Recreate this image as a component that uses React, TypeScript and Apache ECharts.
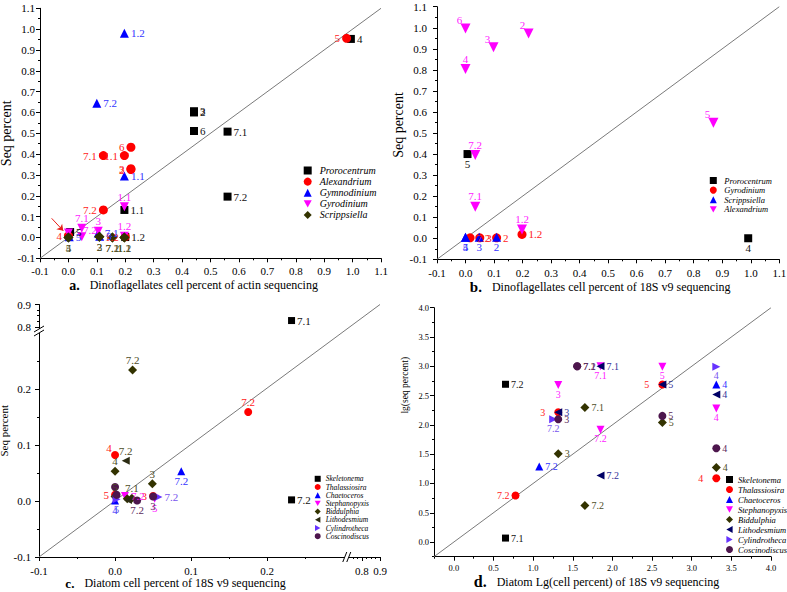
import React, { useEffect, useRef } from 'react';
import * as echarts from 'echarts';

const FONT = 'Liberation Serif';

// ---------- tick labels ----------
const dinoTicks = [-0.1, 0.0, 0.1, 0.2, 0.3, 0.4, 0.5, 0.6, 0.7, 0.8, 0.9, 1.0, 1.1];
const cTicks = [-0.1, 0.0, 0.1, 0.2, 0.8, 0.9];
const dTicks = [0.0, 0.5, 1.0, 1.5, 2.0, 2.5, 3.0, 3.5, 4.0];

// ---------- panel a : actin sequencing ----------
const aPrX = [0.994, 0.442, 0.442, 0.442, 0.56, 0.56, 0.197, 0.006, 0.2];
const aPrY = [0.953, 0.606, 0.6, 0.511, 0.508, 0.196, 0.132, 0.026, 0.002];
const aPrL = ['4', '3', '2', '6', '7.1', '7.2', '1.1', '5', '1.2'];
const aAlX = [0.979, 0.22, 0.123, 0.197, 0.22, 0.22, 0.123, 0.0, 0.2];
const aAlY = [0.956, 0.433, 0.393, 0.393, 0.33, 0.326, 0.132, 0.008, 0.004];
const aAlL = ['5', '6', '7.1', '1.1', '3', '2', '7.2', '4', '1.2'];
const aGmX = [0.197, 0.1, 0.197, 0.105, 0.11, 0.003];
const aGmY = [0.98, 0.644, 0.295, 0.022, 0.006, 0.004];
const aGmL = ['1.2', '7.2', '1.1', '7.1', '3', '5'];
const aGyX = [0.197, 0.047, 0.047, 0.197, 0.105, 0.0];
const aGyY = [0.148, 0.044, 0.004, 0.006, 0.03, 0.022];
const aGyL = ['1.1', '7.1', '7.2', '1.2', '3', ''];
const aScX = [0.0, 0.0, 0.109, 0.109, 0.155, 0.155, 0.197, 0.197];
const aScY = [0.0, 0.0, 0.004, 0.004, 0.0, 0.0, 0.0, 0.0];
const aScL = ['4', '5', '2', '3', '7.1', '7.2', '1.1', '1.2'];
const aArrow = [[-0.059, 0.092], [-0.018, 0.032]];

// ---------- panel b : 18S v9 (dinoflagellates) ----------
const bPrX = [0.007, 0.991];
const bPrY = [0.4, 0.0];
const bPrL = ['5', '4'];
const bGyX = [0.198, 0.016, 0.05, 0.109];
const bGyY = [0.018, 0.002, 0.002, 0.002];
const bGyL = ['1.2', '7.2', '3', '2'];
const bScX = [0.0, 0.0, 0.048, 0.109];
const bScY = [0.005, 0.005, 0.005, 0.005];
const bScL = ['4', '5', '3', '2'];
const bAlX = [0.0, 0.221, 0.098, 0.0, 0.869, 0.034, 0.034, 0.198];
const bAlY = [0.997, 0.973, 0.907, 0.804, 0.549, 0.395, 0.15, 0.042];
const bAlL = ['6', '2', '3', '4', '5', '7.2', '7.1', '1.2'];

// ---------- panel c : diatoms, 18S v9 ----------
const cSkX = [0.232, 0.232];
const cSkY = [0.828, 0.002];
const cSkL = ['7.1', '7.2'];
const cThX = [0.175, 0.0, 0.0, 0.05];
const cThY = [0.159, 0.082, 0.011, 0.009];
const cThL = ['7.2', '4', '5', '3'];
const cChX = [0.087, 0.0];
const cChY = [0.053, 0.001];
const cChL = ['7.2', '4'];
const cStX = [0.013, 0.052];
const cStY = [0.009, 0.004];
const cStL = ['7.2', '5'];
const cBiX = [0.023, 0.0, 0.049, 0.016, 0.022, 0.0];
const cBiY = [0.234, 0.053, 0.031, 0.004, 0.005, 0.008];
const cBiL = ['7.2', '4', '3', '', '7.1', '5'];
const cLiX = [0.014, 0.017];
const cLiY = [0.072, 0.002];
const cLiL = ['7.2', ''];
const cCyX = [0.057, 0.002];
const cCyY = [0.007, 0.003];
const cCyL = ['7.2', '5'];
const cCoX = [0.0, 0.002, 0.029, 0.05];
const cCoY = [0.025, 0.011, 0.001, 0.008];
const cCoL = ['', '', '7.2', '3'];

// ---------- panel d : diatoms, lg scale ----------
const dSkX = [0.652, 0.652];
const dSkY = [2.693, 0.068];
const dSkL = ['7.2', '7.1'];
const dThX = [0.778, 1.317, 2.63, 3.31];
const dThY = [0.795, 2.216, 2.69, 1.09];
const dThL = ['7.2', '3', '5', '4'];
const dChX = [1.077, 3.31];
const dChY = [1.29, 2.69];
const dChL = ['7.2', '4'];
const dStX = [1.317, 1.85, 1.85, 2.63, 3.31];
const dStY = [2.68, 1.915, 3.0, 2.99, 2.28];
const dStL = ['3', '7.2', '7.1', '5', '4'];
const dBiX = [1.653, 1.317, 1.653, 2.63, 3.31];
const dBiY = [2.295, 1.506, 0.625, 2.04, 1.273];
const dBiL = ['7.1', '3', '7.2', '5', '4'];
const dLiX = [1.85, 1.317, 1.85, 2.63, 3.31];
const dLiY = [3.0, 2.216, 1.136, 2.69, 2.52];
const dLiL = ['7.1', '3', '7.2', '5', '4'];
const dCyX = [1.253, 3.31];
const dCyY = [2.097, 2.994];
const dCyL = ['7.2', '4'];
const dCoX = [1.556, 1.317, 2.63, 3.31, 1.556];
const dCoY = [3.0, 2.097, 2.153, 1.6, 3.0];
const dCoL = ['7.2', '3', '5', '4', '7.1'];

// ---------- label placements (style only) ----------
const aPrP = ['r', 'r', 'r', 'r', 'r', 'r', 'r', 'r', 'r'];
const aAlP = ['l', 'l', 'l', 'l', 'l', 'l', 'l', 'l', 'l'];
const aGmP = ['r', 'r', 'r', 'r', 'r', 'r'];
const aGyP = ['t', 't', 'tr', 't', 't', 't'];
const aScP = ['b', 'b', 'b', 'b', 'b', 'b', 'b', 'b'];
const bPrP = ['b', 'b'];
const bGyP = ['r', 'r', 'r', 'r'];
const bScP = ['b', 'b', 'b', 'b'];
const bAlP = ['tl', 'tl', 'tl', 't', 'tl', 't', 't', 't'];
const cSkP = ['r', 'r'];
const cThP = ['t', 'tl', 'l', 'l'];
const cChP = ['b', 'b'];
const cStP = ['r', 'b'];
const cBiP = ['t', 't', 't', 't', 't', 't'];
const cLiP = ['t', 't'];
const cCyP = ['r', 'b'];
const cCoP = ['t', 't', 'b', 'b'];
const dSkP = ['r', 'r'];
const dThP = ['l', 'L', 'L', 'L'];
const dChP = ['r', 'r'];
const dStP = ['b', 'b', 'b', 'b', 'b'];
const dBiP = ['r', 'r', 'r', 'r', 'r'];
const dLiP = ['r', 'r', 'r', 'r', 'r'];
const dCyP = ['b', 'b'];
const dCoP = ['r', 'r', 'r', 'r', 'r'];

const LP: Record<string, any> = {
  r: { position: 'right', distance: 2 },
  l: { position: 'left', distance: 2 },
  L: { position: 'left', distance: 9 },
  t: { position: 'top', distance: 0 },
  b: { position: 'bottom', distance: 0 },
  tl: { position: 'top', distance: 0, offset: [-6, 2] },
  tr: { position: 'top', distance: 0, offset: [8, 3] },
};

const SYM = {
  square: 'rect',
  circle: 'circle',
  up: 'triangle',
  down: 'path://M0,0L10,0L5,9Z',
  left: 'path://M9,0L9,10L0,5Z',
  right: 'path://M0,0L0,10L9,5Z',
  diamond: 'diamond',
};

// ---------- broken-axis mapping for panel c ----------
const CX_LO = 0.3, CX_HS = 0.735, CX_T0 = 0.3092, CX_K = 0.2368;
const CY_LO = 0.3, CY_HS = 0.79, CY_T0 = 0.3071, CY_K = 0.398;
const cx = (v: number) => (v <= CX_LO ? v : CX_T0 + (v - CX_HS) * CX_K);
const cy = (v: number) => (v <= CY_LO ? v : CY_T0 + (v - CY_HS) * CY_K);
const cxInv = (t: number) => (t <= CX_LO + 1e-9 ? t : CX_HS + (t - CX_T0) / CX_K);
const cyInv = (t: number) => (t <= CY_LO + 1e-9 ? t : CY_HS + (t - CY_T0) / CY_K);
const id = (v: number) => v;

function minorOf(ticks: number[], n: number, maxGap: number) {
  const out: number[] = [];
  for (let i = 0; i < ticks.length - 1; i++) {
    const a = ticks[i], b = ticks[i + 1];
    if (b - a > maxGap) continue;
    for (let k = 1; k < n; k++) out.push(a + ((b - a) * k) / n);
  }
  return out;
}

function pts(prefix: string, gi: number, name: string, symbol: string, size: number, color: string,
  labColor: string, xs: number[], ys: number[], labs: string[], pos: string[], fs: number,
  fx = id, fy = id) {
  return {
    type: 'scatter', name: prefix + '|' + name, xAxisIndex: gi * 2, yAxisIndex: gi * 2,
    symbol, symbolSize: size, itemStyle: { color, opacity: 1 }, emphasis: { disabled: true },
    data: xs.map((x, i) => ({
      value: [fx(x), fy(ys[i])],
      label: {
        show: !!labs[i], formatter: labs[i] || '', color: labColor, fontSize: fs,
        fontFamily: FONT, ...LP[pos[i]],
      },
    })),
  };
}

function diag(gi: number, lo: number[], hi: number[]) {
  return {
    type: 'line', xAxisIndex: gi * 2, yAxisIndex: gi * 2, data: [lo, hi], symbol: 'none',
    lineStyle: { color: '#7a7a7a', width: 1 }, silent: true, z: 1,
  };
}

function axes(dim: 'x' | 'y', gi: number, min: number, max: number, major: number[], minor: number[],
  fmt: (v: number) => string, fs: number, margin: number, name: string, nameGap: number, nameStyle: any) {
  const pos = dim === 'x' ? 'bottom' : 'left';
  const main = {
    type: 'value', gridIndex: gi, min, max, position: pos, offset: 0,
    axisLine: { show: true, onZero: false, lineStyle: { color: '#000', width: 1 } },
    axisTick: { show: true, customValues: major, length: 4, inside: false, lineStyle: { color: '#000', width: 1 } },
    minorTick: { show: false },
    axisLabel: { show: true, customValues: major, formatter: fmt, fontSize: fs, fontFamily: FONT, color: '#000', margin },
    splitLine: { show: false },
    name, nameLocation: 'middle', nameGap, nameTextStyle: nameStyle,
  };
  const mn = {
    type: 'value', gridIndex: gi, min, max, position: pos, offset: 0,
    axisLine: { show: false, onZero: false },
    axisTick: { show: true, customValues: minor, length: 2, inside: false, lineStyle: { color: '#000', width: 1 } },
    axisLabel: { show: false },
    splitLine: { show: false },
  };
  return [main, mn];
}

function xTitle(lfs: number, padRight: number) {
  return {
    padding: [0, padRight, 0, 0],
    rich: {
      b: { fontWeight: 'bold', fontSize: lfs, fontFamily: FONT, color: '#000', padding: [0, 10, 0, 0] },
      t: { fontSize: 12, fontFamily: FONT, color: '#000' },
    },
  };
}

function legend(prefix: string, names: string[], left: number, top: number, sz: number, gap: number,
  fs: number, textPad: number) {
  return {
    show: true, orient: 'vertical', left, top, itemWidth: sz, itemHeight: sz, itemGap: gap, padding: 0,
    selectedMode: false, data: names.map((n) => prefix + '|' + n),
    formatter: (n: string) => n.split('|')[1],
    textStyle: { fontStyle: 'italic', fontFamily: FONT, fontSize: fs, color: '#000', padding: [0, 0, 0, textPad] },
  };
}

const f1 = (v: number) => (Math.abs(v) < 1e-9 ? 0 : v).toFixed(1);

export default function App() {
  const ref = useRef<HTMLDivElement>(null);
  useEffect(() => {
    if (!ref.current) return;
    const chart = echarts.init(ref.current, null, { renderer: 'svg' });

    const aX = axes('x', 0, -0.1, 1.1, dinoTicks, minorOf(dinoTicks, 2, 1), f1, 11, 7,
      '{b|a.}{t|Dinoflagellates cell percent of actin sequencing}', 20, xTitle(14, 34));
    const aY = axes('y', 0, -0.1, 1.1, dinoTicks, minorOf(dinoTicks, 2, 1), f1, 11, 5,
      'Seq percent', 21, { fontSize: 14, fontFamily: FONT, color: '#000' });
    const bX = axes('x', 1, -0.1, 1.1, dinoTicks, minorOf(dinoTicks, 2, 1), f1, 11, 8,
      '{b|b.}{t|Dinoflagellates cell percent of 18S v9 sequencing}', 19, xTitle(15, 16));
    const bY = axes('y', 1, -0.1, 1.1, dinoTicks, minorOf(dinoTicks, 2, 1), f1, 11, 10,
      'Seq percent', 26, { fontSize: 14, fontFamily: FONT, color: '#000', padding: [0, 0, 0, 16] });
    const cMinorX = [-0.05, 0.05, 0.15, 0.25, 0.75, 0.775, 0.825, 0.85, 0.875];
    const cMinorY = [-0.05, 0.05, 0.15, 0.25, 0.825, 0.85, 0.875];
    const cX = axes('x', 2, -0.1, cx(0.9), cTicks.map(cx), cMinorX.map(cx), (t) => f1(cxInv(t)), 11, 8,
      '{b|c.}{t|Diatom cell percent of 18S v9 sequencing}', 18, xTitle(13, 68));
    const cY = axes('y', 2, -0.1, cy(0.9), cTicks.map(cy), cMinorY.map(cy), (t) => f1(cyInv(t)), 11, 8,
      'Seq percent', 19, { fontSize: 11, fontFamily: FONT, color: '#000' });
    const dX = axes('x', 3, -0.25, 4.0, dTicks, minorOf([-0.5, ...dTicks], 2, 1), f1, 8.5, 7,
      '{b|d.}{t|Diatom Lg(cell percent) of 18S v9 sequencing}', 17, xTitle(16, 12));
    const dY = axes('y', 3, -0.25, 4.0, dTicks, minorOf([-0.5, ...dTicks], 2, 1), f1, 8.5, 5,
      'lg(seq percent)', 24, { fontSize: 9.5, fontFamily: FONT, color: '#000', padding: [0, 0, 0, 94] });

    const aNames = ['Prorocentrum', 'Alexandrium', 'Gymnodinium', 'Gyrodinium', 'Scrippsiella'];
    const bNames = ['Prorocentrum', 'Gyrodinium', 'Scrippsiella', 'Alexandrium'];
    const cdNames = ['Skeletonema', 'Thalassiosira', 'Chaetoceros', 'Stephanopyxis', 'Biddulphia',
      'Lithodesmium', 'Cylindrotheca', 'Coscinodiscus'];

    const OLIVE = '#333300';
    const aPr: any = pts('a', 0, 'Prorocentrum', SYM.square, 8, '#000', '#111', aPrX, aPrY, aPrL, aPrP, 11);
    aPr.markLine = {
      silent: true, symbol: ['none', 'arrow'], symbolSize: 6, label: { show: false },
      lineStyle: { color: '#e8201a', width: 1, type: 'solid' },
      data: [[{ coord: aArrow[0] }, { coord: aArrow[1] }]],
    };

    const series = [
      diag(0, [-0.1, -0.1], [1.1, 1.1]),
      diag(1, [-0.1, -0.1], [1.1, 1.1]),
      diag(2, [-0.1, -0.1], [cx(0.9), cy(0.9)]),
      diag(3, [-0.25, -0.25], [4.0, 4.0]),
      aPr,
      pts('a', 0, 'Alexandrium', SYM.circle, 9, '#ff0000', '#ff1a1a', aAlX, aAlY, aAlL, aAlP, 11),
      pts('a', 0, 'Gymnodinium', SYM.up, 9, '#0000ff', '#3333ff', aGmX, aGmY, aGmL, aGmP, 11),
      pts('a', 0, 'Gyrodinium', SYM.down, 9, '#ff00ff', '#ff22ff', aGyX, aGyY, aGyL, aGyP, 11),
      pts('a', 0, 'Scrippsiella', SYM.diamond, 10, OLIVE, '#4d4d1f', aScX, aScY, aScL, aScP, 11),

      pts('b', 1, 'Prorocentrum', SYM.square, 8, '#000', '#111', bPrX, bPrY, bPrL, bPrP, 11),
      pts('b', 1, 'Gyrodinium', SYM.circle, 9, '#ff0000', '#ff1a1a', bGyX, bGyY, bGyL, bGyP, 11),
      pts('b', 1, 'Scrippsiella', SYM.up, 9, '#0000ff', '#3333ff', bScX, bScY, bScL, bScP, 11),
      pts('b', 1, 'Alexandrium', SYM.down, 10, '#ff00ff', '#ff22ff', bAlX, bAlY, bAlL, bAlP, 11),

      pts('c', 2, 'Skeletonema', SYM.square, 7, '#000', '#111', cSkX, cSkY, cSkL, cSkP, 11, cx, cy),
      pts('c', 2, 'Thalassiosira', SYM.circle, 8, '#ff0000', '#ff1a1a', cThX, cThY, cThL, cThP, 11, cx, cy),
      pts('c', 2, 'Chaetoceros', SYM.up, 8, '#0000ff', '#3333ff', cChX, cChY, cChL, cChP, 11, cx, cy),
      pts('c', 2, 'Stephanopyxis', SYM.down, 8, '#ff00ff', '#ff22ff', cStX, cStY, cStL, cStP, 11, cx, cy),
      pts('c', 2, 'Biddulphia', SYM.diamond, 9, OLIVE, '#4d4d1f', cBiX, cBiY, cBiL, cBiP, 11, cx, cy),
      pts('c', 2, 'Lithodesmium', SYM.left, 8, '#2b2b12', '#4d4d1f', cLiX, cLiY, cLiL, cLiP, 11, cx, cy),
      pts('c', 2, 'Cylindrotheca', SYM.right, 8, '#6633ff', '#7755ee', cCyX, cCyY, cCyL, cCyP, 11, cx, cy),
      pts('c', 2, 'Coscinodiscus', SYM.circle, 8, '#4d164d', '#5c2a5c', cCoX, cCoY, cCoL, cCoP, 11, cx, cy),

      pts('d', 3, 'Skeletonema', SYM.square, 7, '#000', '#111', dSkX, dSkY, dSkL, dSkP, 10),
      pts('d', 3, 'Thalassiosira', SYM.circle, 8, '#ff0000', '#ff1a1a', dThX, dThY, dThL, dThP, 10),
      pts('d', 3, 'Chaetoceros', SYM.up, 8, '#0000ff', '#3333ff', dChX, dChY, dChL, dChP, 10),
      pts('d', 3, 'Stephanopyxis', SYM.down, 8, '#ff00ff', '#ff22ff', dStX, dStY, dStL, dStP, 10),
      pts('d', 3, 'Biddulphia', SYM.diamond, 9, OLIVE, '#4d4d1f', dBiX, dBiY, dBiL, dBiP, 10),
      pts('d', 3, 'Lithodesmium', SYM.left, 8, '#000066', '#333399', dLiX, dLiY, dLiL, dLiP, 10),
      pts('d', 3, 'Cylindrotheca', SYM.right, 8, '#6633ff', '#7755ee', dCyX, dCyY, dCyL, dCyP, 10),
      pts('d', 3, 'Coscinodiscus', SYM.circle, 8, '#4d164d', '#5c2a5c', dCoX, dCoY, dCoL, dCoP, 10),
    ];

    const option: any = {
      animation: false,
      backgroundColor: '#fff',
      textStyle: { fontFamily: FONT },
      grid: [
        { left: 40, top: 8.3, width: 341, height: 250, containLabel: false, outerBoundsMode: 'none' },
        { left: 437, top: 6.7, width: 342.3, height: 252.6, containLabel: false, outerBoundsMode: 'none' },
        { left: 39, top: 304.5, width: 341, height: 252.5, containLabel: false, outerBoundsMode: 'none' },
        { left: 434, top: 307.7, width: 337, height: 249, containLabel: false, outerBoundsMode: 'none' },
      ],
      xAxis: [...aX, ...bX, ...cX, ...dX],
      yAxis: [...aY, ...bY, ...cY, ...dY],
      legend: [
        legend('a', aNames, 303.7, 165.5, 8, 1.1, 10, 3),
        legend('b', bNames, 709.8, 176, 7, 0.6, 8.5, 2.5),
        legend('c', cdNames, 314.7, 474.8, 6, 0.2, 7.5, 0),
        legend('d', cdNames, 726, 475, 7, 1.0, 8.5, 0),
      ],
      series,
    };
    chart.setOption(option);

    const axX = chart.convertToPixel({ xAxisIndex: 4 }, -0.1) as number;
    const axY = chart.convertToPixel({ yAxisIndex: 4 }, -0.1) as number;
    const xb = chart.convertToPixel({ xAxisIndex: 4 }, (CX_LO + CX_T0) / 2) as number;
    const yb = chart.convertToPixel({ yAxisIndex: 4 }, (CY_LO + CY_T0) / 2) as number;
    const ls = { stroke: '#000', lineWidth: 1 };
    chart.setOption({
      graphic: [
        { type: 'rect', z: 100, shape: { x: axX - 2, y: yb - 2, width: 4, height: 4 }, style: { fill: '#fff' } },
        { type: 'line', z: 101, shape: { x1: axX - 5, y1: yb + 1, x2: axX + 5, y2: yb - 5 }, style: ls },
        { type: 'line', z: 101, shape: { x1: axX - 5, y1: yb + 5, x2: axX + 5, y2: yb - 1 }, style: ls },
        { type: 'rect', z: 100, shape: { x: xb - 2, y: axY - 2, width: 4, height: 4 }, style: { fill: '#fff' } },
        { type: 'line', z: 101, shape: { x1: xb - 4, y1: axY + 5, x2: xb, y2: axY - 5 }, style: ls },
        { type: 'line', z: 101, shape: { x1: xb, y1: axY + 5, x2: xb + 4, y2: axY - 5 }, style: ls },
      ],
    });

    return () => chart.dispose();
  }, []);
  return <div ref={ref} style={{ position: 'absolute', left: 0, top: 0, width: 787, height: 592 }} />;
}
